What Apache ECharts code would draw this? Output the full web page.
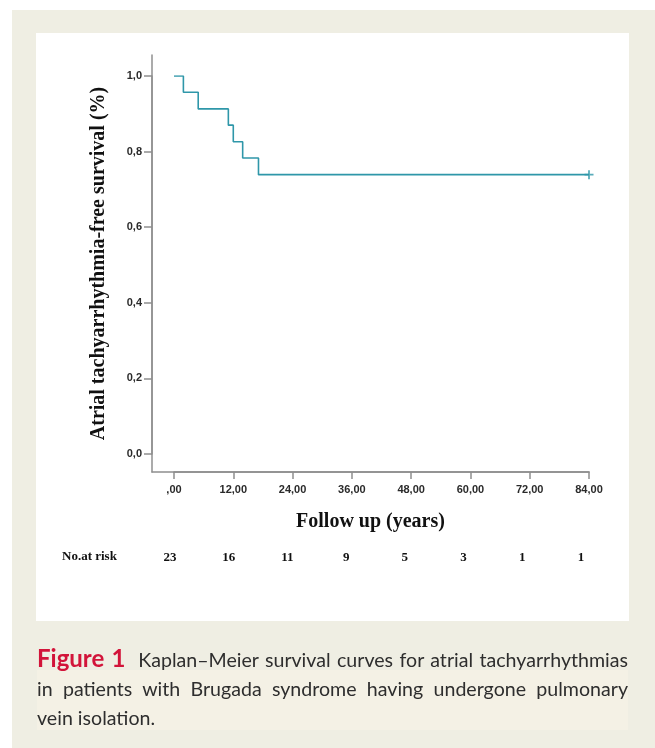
<!DOCTYPE html>
<html>
<head>
<meta charset="utf-8">
<script src="https://cdn.jsdelivr.net/npm/echarts@6/dist/echarts.min.js"></script>
<style>
  html, body { margin: 0; padding: 0; width: 655px; height: 748px; background: #ffffff; overflow: hidden; }
  #panel { position: absolute; left: 12px; top: 10px; width: 643px; height: 738px; background: #efeee3; }
  #white { position: absolute; left: 36px; top: 33px; width: 593px; height: 588px; background: #ffffff; }
  #band { position: absolute; left: 37px; top: 670px; width: 591px; height: 60px; background: #f4f1e5; }
  #chart { position: absolute; left: 0; top: 0; width: 655px; height: 748px; }
  #caption { position: absolute; left: 37px; top: 643px; width: 591px; font-family: Lato, "Open Sans", sans-serif;
             font-size: 19.6px; line-height: 29px; color: #2e2e2e; }
  #caption .j { display: block; text-align: justify; text-align-last: justify; white-space: nowrap; }
  #caption .l { display: block; text-align: left; }
  #caption b { color: #d2143a; font-weight: 700; font-size: 24px; }
</style>
</head>
<body>
<div id="panel"></div>
<div id="white"></div>
<div id="band"></div>
<div id="chart"></div>
<div id="caption"><span class="j"><b>Figure 1</b>&nbsp; Kaplan–Meier survival curves for atrial tachyarrhythmias</span><span class="j">in patients with Brugada syndrome having undergone pulmonary</span><span class="l">vein isolation.</span></div>
<script>
// Kaplan–Meier step points (months, survival proportion)
const times = [0, 1.9, 4.9, 11.0, 12.0, 13.9, 17.1, 84];
const survival = [1.0, 0.957, 0.913, 0.870, 0.826, 0.783, 0.739, 0.739];
// censored observation
const censorTimes = [84];
const censorSurvival = [0.739];
// axis ticks
const xTicks = [0, 12, 24, 36, 48, 60, 72, 84];
const yTicks = [0, 0.2, 0.4, 0.6, 0.8, 1.0];
// number at risk under each x tick
const atRisk = [23, 16, 11, 9, 5, 3, 1, 1];

const lineColor = '#2f97a9';
const axisColor = '#8f8f8f';
const sansBold = { fontFamily: 'Liberation Sans, Arial, sans-serif', fontWeight: 'bold', fontSize: 11, color: '#2a2a2a' };
const serifBold = { fontFamily: 'Liberation Serif, Times New Roman, serif', fontWeight: 'bold', color: '#111' };

const chart = echarts.init(document.getElementById('chart'), null, { renderer: 'canvas' });
chart.setOption({
  backgroundColor: 'transparent',
  animation: false,
  grid: [
    { left: 174, top: 76, width: 415, height: 378 },   // data area
    { left: 152, top: 55, width: 437, height: 417 },   // axis frame
    { left: 170, top: 545, width: 411, height: 1 }     // number at risk row
  ],
  xAxis: [
    {
      gridIndex: 0, type: 'value', min: 0, max: 84, interval: 12, offset: 18,
      axisLine: { show: true, onZero: false, lineStyle: { color: axisColor, width: 1.5 } },
      axisTick: { show: true, length: 7, lineStyle: { color: axisColor, width: 1.5 } },
      axisLabel: Object.assign({ margin: 12, formatter: v => v === 0 ? ',00' : v.toFixed(2).replace('.', ',') }, sansBold),
      splitLine: { show: false }
    },
    {
      gridIndex: 1, type: 'value', min: 0, max: 1,
      axisLine: { show: true, onZero: false, lineStyle: { color: axisColor, width: 1.5 } },
      axisTick: { show: false }, axisLabel: { show: false }, splitLine: { show: false },
      name: 'Follow up (years)', nameLocation: 'middle', nameGap: 40,
      nameTextStyle: Object.assign({ fontSize: 20 }, serifBold)
    },
    {
      gridIndex: 2, type: 'value', min: 0, max: 84, interval: 12,
      axisLine: { show: false, onZero: false }, axisTick: { show: false }, splitLine: { show: false },
      axisLabel: Object.assign({ margin: 5, fontSize: 13, formatter: v => String(atRisk[Math.round(v / 12)]) }, serifBold)
    }
  ],
  yAxis: [
    {
      gridIndex: 0, type: 'value', min: 0, max: 1, interval: 0.2, offset: 22,
      axisLine: { show: true, onZero: false, lineStyle: { color: axisColor, width: 1.5 } },
      axisTick: { show: true, length: 8, lineStyle: { color: axisColor, width: 1.5 } },
      axisLabel: Object.assign({ margin: 10, formatter: v => v.toFixed(1).replace('.', ',') }, sansBold),
      splitLine: { show: false }
    },
    {
      gridIndex: 1, type: 'value', min: 0, max: 1,
      axisLine: { show: true, onZero: false, lineStyle: { color: axisColor, width: 1.5 } },
      axisTick: { show: false }, axisLabel: { show: false }, splitLine: { show: false },
      name: 'Atrial tachyarrhythmia-free survival (%)', nameLocation: 'middle', nameGap: 43,
      nameTextStyle: Object.assign({ fontSize: 20 }, serifBold)
    },
    {
      gridIndex: 2, type: 'value', min: 0, max: 1, show: false
    }
  ],
  graphic: [
    {
      type: 'text', left: 62, top: 550,
      style: { text: 'No.at risk', font: 'bold 13px "Liberation Serif", serif', fill: '#111' }
    }
  ],
  series: [
    {
      type: 'line', xAxisIndex: 0, yAxisIndex: 0, step: 'end', showSymbol: false,
      lineStyle: { color: lineColor, width: 1.6 },
      data: times.map((t, i) => [t, survival[i]])
    },
    {
      type: 'scatter', xAxisIndex: 0, yAxisIndex: 0,
      symbol: 'path://M4,0H6V4H10V6H6V10H4V6H0V4H4Z', symbolSize: 9,
      itemStyle: { color: lineColor },
      data: censorTimes.map((t, i) => [t, censorSurvival[i]])
    }
  ]
});
</script>
</body>
</html>
